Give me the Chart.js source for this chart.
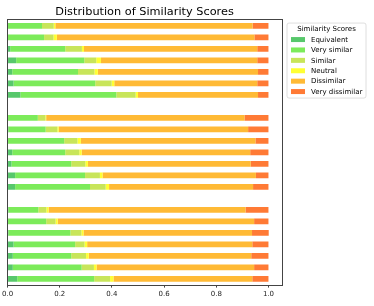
<!DOCTYPE html>
<html>
<head>
<meta charset="utf-8">
<script src="https://cdn.jsdelivr.net/npm/chart.js@4/dist/chart.umd.min.js"></script>
<style>
  html, body { margin: 0; padding: 0; background: #fff; }
  #wrap { width: 374px; height: 306px; }
</style>
</head>
<body>
<div id="wrap"><canvas id="chart"></canvas></div>
<script>
// 3 groups of 7 rows, with a blank row between groups (top to bottom)
const ROW_LABELS = [
  'A1', 'A2', 'A3', 'A4', 'A5', 'A6', 'A7', '',
  'B1', 'B2', 'B3', 'B4', 'B5', 'B6', 'B7', ' ',
  'C1', 'C2', 'C3', 'C4', 'C5', 'C6', 'C7',
];

const SCORE_NAMES = ['Equivalent', 'Very similar', 'Similar', 'Neutral', 'Dissimilar', 'Very dissimilar'];
const SCORE_COLORS = ['#57c86b', '#7ceb5a', '#c8e55a', '#ffff33', '#ffba35', '#ff7a35'];

const equivalent = [
  0.000, 0.000, 0.010, 0.033, 0.018, 0.023, 0.049, null,
  0.000, 0.003, 0.000, 0.018, 0.015, 0.029, 0.029, null,
  0.003, 0.000, 0.003, 0.023, 0.020, 0.020, 0.037,
];
const verySimilar = [
  0.132, 0.140, 0.211, 0.261, 0.252, 0.313, 0.368, null,
  0.116, 0.143, 0.217, 0.203, 0.229, 0.268, 0.287, null,
  0.115, 0.148, 0.238, 0.236, 0.224, 0.264, 0.295,
];
const similar = [
  0.045, 0.036, 0.064, 0.046, 0.063, 0.063, 0.074, null,
  0.029, 0.045, 0.051, 0.054, 0.054, 0.057, 0.060, null,
  0.031, 0.036, 0.042, 0.036, 0.057, 0.047, 0.061,
];
const neutral = [
  0.006, 0.013, 0.008, 0.018, 0.013, 0.010, 0.009, null,
  0.003, 0.005, 0.013, 0.009, 0.010, 0.010, 0.013, null,
  0.008, 0.008, 0.008, 0.010, 0.010, 0.010, 0.013,
];
const dissimilar = [
  0.756, 0.757, 0.664, 0.599, 0.614, 0.548, 0.460, null,
  0.760, 0.726, 0.669, 0.646, 0.624, 0.588, 0.552, null,
  0.755, 0.753, 0.646, 0.633, 0.623, 0.604, 0.532,
];
const veryDissimilar = [
  0.061, 0.054, 0.043, 0.043, 0.040, 0.043, 0.040, null,
  0.092, 0.078, 0.050, 0.070, 0.068, 0.048, 0.059, null,
  0.088, 0.055, 0.064, 0.062, 0.066, 0.055, 0.062,
];

const X_TICKS = [0, 0.2, 0.4, 0.6, 0.8, 1.0];
const FONT = 'DejaVu Sans';

const series = [equivalent, verySimilar, similar, neutral, dissimilar, veryDissimilar];

// axes frame + matplotlib-style legend box outside on the right
const frameAndLegend = {
  id: 'frameAndLegend',
  afterDraw(chart) {
    const { ctx, chartArea: a } = chart;
    ctx.save();
    ctx.strokeStyle = '#444';
    ctx.lineWidth = 1;
    ctx.strokeRect(Math.round(a.left) - 0.5, Math.round(a.top) - 0.5,
      Math.round(a.right - a.left) + 1, Math.round(a.bottom - a.top) + 1);

    const lx = a.right + 5.5, ly = a.top + 3, lw = 79, lh = 75;
    ctx.beginPath();
    ctx.roundRect(lx, ly, lw, lh, 2);
    ctx.fillStyle = 'rgba(255,255,255,0.8)';
    ctx.fill();
    ctx.strokeStyle = '#d6d6d6';
    ctx.lineWidth = 0.8;
    ctx.stroke();

    ctx.fillStyle = '#000';
    ctx.font = `7px "${FONT}"`;
    ctx.textBaseline = 'middle';
    ctx.textAlign = 'center';
    ctx.fillText('Similarity Scores', lx + lw / 2, ly + 6.5);
    ctx.textAlign = 'left';
    SCORE_NAMES.forEach((name, i) => {
      const cy = ly + 16.5 + i * 10.4;
      ctx.fillStyle = SCORE_COLORS[i];
      ctx.fillRect(lx + 4, cy - 2.5, 14, 5);
      ctx.fillStyle = '#000';
      ctx.fillText(name, lx + 24, cy + 0.5);
    });
    ctx.restore();
  },
};

new Chart(document.getElementById('chart'), {
  type: 'bar',
  data: {
    labels: ROW_LABELS,
    datasets: SCORE_NAMES.map((name, i) => ({
      label: name,
      data: series[i],
      backgroundColor: SCORE_COLORS[i],
      borderWidth: 0,
      barPercentage: 0.5,
      categoryPercentage: 1,
    })),
  },
  options: {
    indexAxis: 'y',
    responsive: true,
    maintainAspectRatio: false,
    animation: false,
    layout: { padding: { left: 7, right: 92.5, top: 0, bottom: 6 } },
    plugins: {
      legend: { display: false },
      tooltip: { enabled: false },
      title: {
        display: true,
        text: 'Distribution of Similarity Scores',
        fullSize: false,
        color: '#000',
        font: { family: FONT, size: 11.3, weight: 'normal' },
        padding: { top: 5, bottom: 1.5 },
      },
    },
    scales: {
      x: {
        stacked: true,
        min: 0,
        max: 1.05,
        afterBuildTicks: (axis) => { axis.ticks = X_TICKS.map((v) => ({ value: v })); },
        grid: { drawOnChartArea: false, drawTicks: true, tickLength: 3, tickColor: '#444' },
        border: { display: false },
        ticks: {
          color: '#222',
          padding: 2,
          maxRotation: 0,
          font: { family: FONT, size: 7 },
          callback: (v) => Number(v).toFixed(1),
        },
      },
      y: {
        stacked: true,
        display: false,
      },
    },
  },
  plugins: [frameAndLegend],
});
</script>
</body>
</html>
